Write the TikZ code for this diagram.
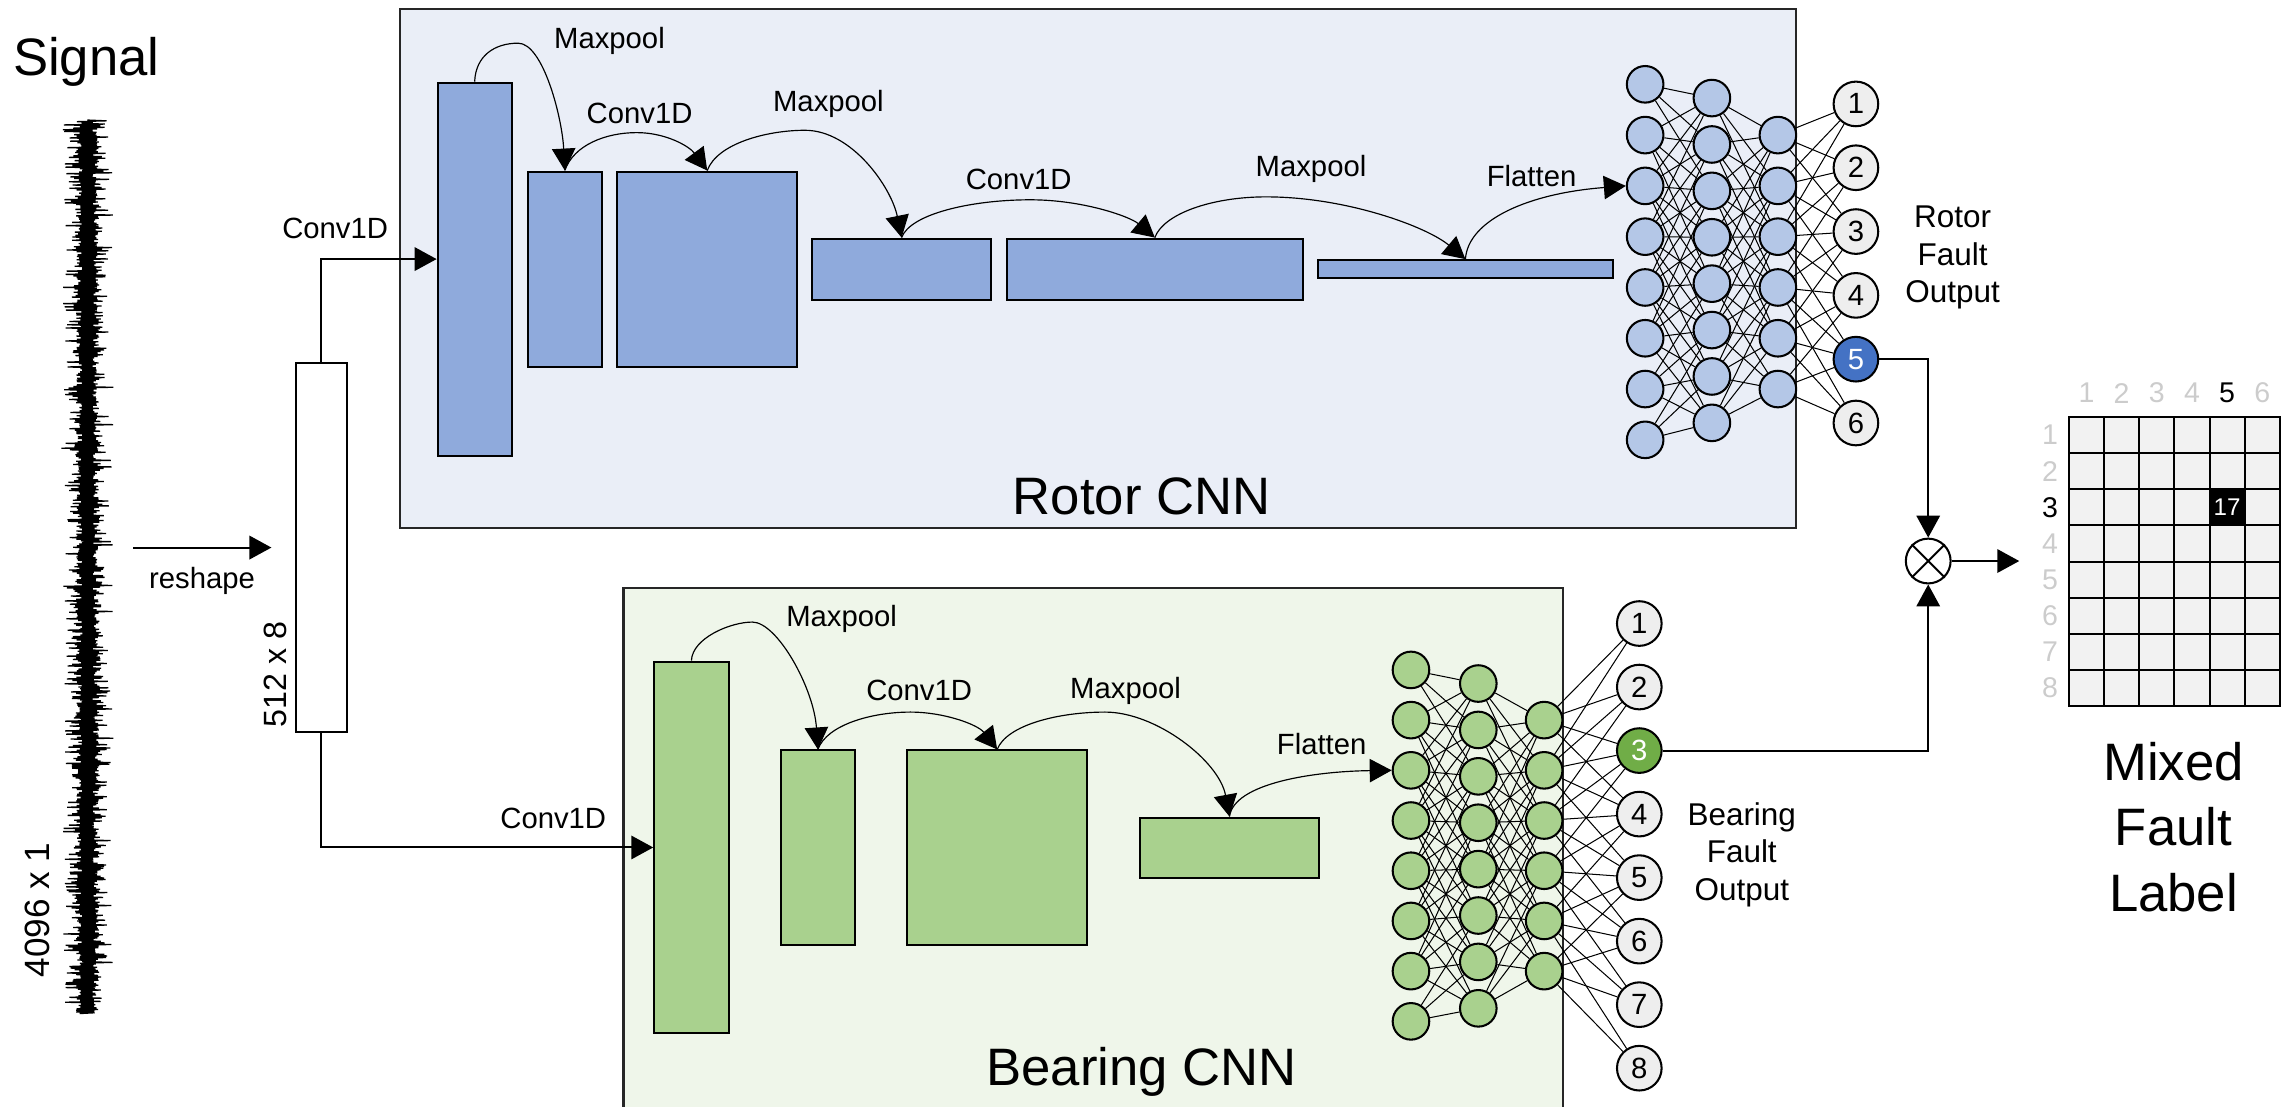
\documentclass[tikz,border=0pt]{standalone}
\usepackage{fontspec}
\setmainfont{Liberation Sans}
\usetikzlibrary{arrows.meta,calc}

\definecolor{rotorbg}{HTML}{EAEEF7}
\definecolor{bearbg}{HTML}{EFF6EA}
\definecolor{rotorlayer}{HTML}{8FAADC}
\definecolor{rotorunit}{HTML}{B4C7E7}
\definecolor{bearlayer}{HTML}{A9D18E}
\definecolor{outgray}{HTML}{EEEEEE}
\definecolor{hotblue}{HTML}{4472C4}
\definecolor{hotgreen}{HTML}{70AD47}
\definecolor{cellgray}{HTML}{F2F2F2}
\definecolor{dimlabel}{HTML}{CCCCCC}
\definecolor{framegray}{HTML}{262626}

% connect two dense layers: units whose heights differ by less than 102 are linked
% #1 name, #2 count, #3 first y, #4 y step (same for #5..#8)
\newcommand\meshlink[8]{%
  \foreach \i in {1,...,#2}{%
    \foreach \j in {1,...,#6}{%
      \pgfmathtruncatemacro\meshok{abs((#3+(\i-1)*#4)-(#7+(\j-1)*#8))<102}%
      \ifnum\meshok=1 \draw[wire] (#1-\i) -- (#5-\j);\fi
    }}}

\begin{document}
\begin{tikzpicture}[x=1pt,y=-1pt,
  panel/.style={draw=framegray,line width=1.4pt},
  fmap/.style={draw=black,line width=1.4pt,inner sep=0pt},
  unit/.style={circle,draw=black,line width=1.4pt,minimum size=25pt,inner sep=0pt},
  outn/.style={circle,draw=black,line width=1.4pt,minimum size=30.5pt,inner sep=0pt,
    font=\fontsize{20}{24}\selectfont},
  wire/.style={line width=0.7pt},
  conn/.style={line width=1.4pt,-{Triangle[length=15pt,width=16pt]}},
  curv/.style={line width=0.8pt,-{Triangle[length=15pt,width=16pt]}},
  small/.style={font=\fontsize{20}{24}\selectfont,inner sep=0pt},
  mid/.style={font=\fontsize{21.5}{25.5}\selectfont,align=center,inner sep=0pt},
  big/.style={font=\fontsize{36}{44.75}\selectfont,align=center,inner sep=0pt},
  gridlbl/.style={font=\fontsize{19.5}{23}\selectfont,inner sep=0pt},
]
\useasboundingbox (0,0) rectangle (1568,756);

% ---------- panels ----------
\draw[panel,fill=rotorbg] (273,6) rectangle (1227,361);
\draw[panel,fill=bearbg] (426,401.5) rectangle (1068,770);

% ---------- raw signal ----------
\node[font=\fontsize{36}{40}\selectfont,inner sep=0pt] (sigtitle) at (59,42) {Signal};
\pgfmathsetseed{12}
\draw[line width=0.85pt] (59.7,82)
  \foreach \i in {1,...,1100}{
    -- ({59.7+(2*mod(\i,2)-1)*(3.4+4.3*rnd+11*rnd^4)},{82+\i*0.555})
  };
\node[rotate=90,font=\fontsize{24}{28}\selectfont,inner sep=0pt] (siglen) at (25.6,621.7) {4096 x 1};

% ---------- reshape ----------
\node[fmap,fill=white,minimum width=34.7pt,minimum height=252.6pt] (R) at (219.5,374.1) {};
\node[rotate=90,font=\fontsize{22}{26}\selectfont,inner sep=0pt] (rlen) at (188,461) {512 x 8};
\coordinate (sigout) at (91,374.1);
\draw[conn] (sigout) -- ([xshift=-16pt]R.west);
\node[small] (reshlbl) at (138,397) {reshape};

% ---------- rotor feature maps ----------
\begin{scope}[every node/.style={fmap,fill=rotorlayer}]
\node[minimum width=50.6pt,minimum height=255pt]   (L1) at (324.3,184) {};
\node[minimum width=50.8pt,minimum height=133.8pt] (L2) at (385.9,184.1) {};
\node[minimum width=123.1pt,minimum height=133.8pt](L3) at (483.2,184.1) {};
\node[minimum width=122.1pt,minimum height=42pt]   (L4) at (616,184) {};
\node[minimum width=201.9pt,minimum height=42pt]   (L5) at (789,184) {};
\node[minimum width=201.7pt,minimum height=12.5pt] (L6) at (1001.2,184) {};
\end{scope}

% ---------- bearing feature maps ----------
\begin{scope}[every node/.style={fmap,fill=bearlayer}]
\node[minimum width=50.8pt,minimum height=254pt]   (B1) at (472.4,579) {};
\node[minimum width=50.4pt,minimum height=133pt]   (B2) at (558.8,579.2) {};
\node[minimum width=122.6pt,minimum height=133pt]  (B3) at (681.3,579.2) {};
\node[minimum width=122pt,minimum height=41.2pt]   (B4) at (840,579.2) {};
\end{scope}

% ---------- input branches ----------
\draw[conn] (R.north) |- ([yshift=7pt]L1.west);
\node[small] (c0r) at (229,156.3) {Conv1D};
\draw[conn] (R.south) |- (B1.west);
\node[small] (c0b) at (378,559) {Conv1D};

% ---------- rotor dense units ----------
\foreach \k in {1,...,8}
  \node[unit,fill=rotorunit] (rA-\k) at (1124,{57.6+(\k-1)*34.7}) {};
\foreach \k in {1,...,8}
  \node[unit,fill=rotorunit] (rB-\k) at (1169.6,{67+(\k-1)*31.7}) {};
\foreach \k in {1,...,6}
  \node[unit,fill=rotorunit] (rC-\k) at (1214.7,{92.3+(\k-1)*34.7}) {};
\foreach \k/\fc/\tc in {1/outgray/black,2/outgray/black,3/outgray/black,
                        4/outgray/black,5/hotblue/white,6/outgray/black}
  \node[outn,fill=\fc,text=\tc] (ro-\k) at (1268,{71+(\k-1)*43.6}) {\k};

\meshlink{rA}{8}{57.6}{34.7}{rB}{8}{67}{31.7}
\meshlink{rB}{8}{67}{31.7}{rC}{6}{92.3}{34.7}
\meshlink{rC}{6}{92.3}{34.7}{ro}{6}{71}{43.6}

% ---------- bearing dense units ----------
\foreach \k in {1,...,8}
  \node[unit,fill=bearlayer] (bA-\k) at (964,{457.7+(\k-1)*34.3}) {};
\foreach \k in {1,...,8}
  \node[unit,fill=bearlayer] (bB-\k) at (1010,{467+(\k-1)*31.7}) {};
\foreach \k in {1,...,6}
  \node[unit,fill=bearlayer] (bC-\k) at (1055,{492+(\k-1)*34.3}) {};
\foreach \k/\fc/\tc in {1/outgray/black,2/outgray/black,3/hotgreen/white,4/outgray/black,
                        5/outgray/black,6/outgray/black,7/outgray/black,8/outgray/black}
  \node[outn,fill=\fc,text=\tc] (bo-\k) at (1120,{426+(\k-1)*43.4}) {\k};

\meshlink{bA}{8}{457.7}{34.3}{bB}{8}{467}{31.7}
\meshlink{bB}{8}{467}{31.7}{bC}{6}{492}{34.3}
\meshlink{bC}{6}{492}{34.3}{bo}{8}{426}{43.4}

% ---------- rotor layer transitions ----------
\draw[curv] (L1.north) .. controls (325,38) and (338,29.5) .. (354,29.5)
            .. controls (371,29.5) and (384,80) .. (L2.north);
\node[small] (mp1r) at (416.4,28.3) {Maxpool};
\draw[curv] (L2.north) .. controls (392,99) and (414,90.6) .. (435,90.6)
            .. controls (455,90.6) and (471,100) .. (L3.north);
\node[small] (cv1r) at (437,77.7) {Conv1D};
\draw[curv] (L3.north) .. controls (490,98) and (524,89) .. (550,89)
            .. controls (582,89) and (609,128) .. (L4.north);
\node[small] (mp2r) at (566,70.7) {Maxpool};
\draw[curv] (L4.north) .. controls (622,146) and (664,136.5) .. (704,136.5)
            .. controls (740,136.5) and (772,148) .. (L5.north);
\node[small] (cv2r) at (696,122.5) {Conv1D};
\draw[curv] (L5.north) .. controls (795,146) and (828,134.5) .. (865,134.5)
            .. controls (920,134.5) and (975,155) .. (L6.north);
\node[small] (mp3r) at (895.7,115.4) {Maxpool};
\draw[curv] (L6.north) .. controls (1003,150) and (1045,132) .. (rA-3.west);
\node[small] (flr) at (1046.4,120) {Flatten};

% ---------- bearing layer transitions ----------
\draw[curv] (B1.north) .. controls (473,436) and (499,425) .. (514,425)
            .. controls (531,425) and (556,470) .. (B2.north);
\node[small] (mp1b) at (575,422.6) {Maxpool};
\draw[curv] (B2.north) .. controls (565,495) and (596,486.5) .. (622,486.5)
            .. controls (645,486.5) and (668,495) .. (B3.north);
\node[small] (cv1b) at (628,472) {Conv1D};
\draw[curv] (B3.north) .. controls (688,495) and (724,486.5) .. (755,486.5)
            .. controls (790,486.5) and (833,520) .. (B4.north);
\node[small] (mp2b) at (769,472) {Maxpool};
\draw[curv] (B4.north) .. controls (843,535) and (898,527) .. (bA-3.west);
\node[small] (flb) at (903,508) {Flatten};

% ---------- panel titles and output captions ----------
\node[big] (rtitle) at (780,339) {Rotor CNN};
\node[big] (btitle) at (780,732) {Bearing CNN};
\node[mid] (rcap) at (1334,176) {Rotor\\Fault\\Output};
\node[mid] (bcap) at (1190,584) {Bearing\\Fault\\Output};

% ---------- combination ----------
\node[circle,draw=black,line width=1.4pt,minimum size=30.6pt,inner sep=0pt] (ot) at (1317.4,383.3) {};
\draw[line width=1.4pt] (ot.north east) -- (ot.south west) (ot.north west) -- (ot.south east);
\draw[conn] (ro-5.east) -| (ot.north);
\draw[conn] (bo-3.east) -| (ot.south);
\coordinate (gridin) at (1379.6,383.3);
\draw[conn] (ot.east) -- (gridin);

% ---------- mixed label table ----------
\fill[cellgray] (1413.5,285) rectangle (1557.7,482.3);
\fill[black] (1509.6,334.3) rectangle (1533.6,359);
\foreach \c in {1,...,5}
  \draw[line width=1.4pt] ({1413.5+\c*24.03},285) -- ({1413.5+\c*24.03},482.3);
\foreach \r in {1,...,7}
  \draw[line width=1.4pt] (1413.5,{285+\r*24.66}) -- (1557.7,{285+\r*24.66});
\draw[line width=1.4pt] (1413.5,285) rectangle (1557.7,482.3);
\node[font=\fontsize{16.5}{18}\selectfont,text=white,inner sep=0pt] (hit) at (1521.6,346.7) {17};
\foreach \k/\tc in {1/dimlabel,2/dimlabel,3/dimlabel,4/dimlabel,5/black,6/dimlabel}
  \node[gridlbl,text=\tc] (col-\k) at ({1425.5+(\k-1)*24.03},268.6) {\k};
\foreach \k/\tc in {1/dimlabel,2/dimlabel,3/black,4/dimlabel,5/dimlabel,6/dimlabel,7/dimlabel,8/dimlabel}
  \node[gridlbl,text=\tc] (row-\k) at (1400.6,{297.3+(\k-1)*24.66}) {\k};
\node[big] (mixcap) at (1485,565) {Mixed\\Fault\\Label};
\end{tikzpicture}
\end{document}
